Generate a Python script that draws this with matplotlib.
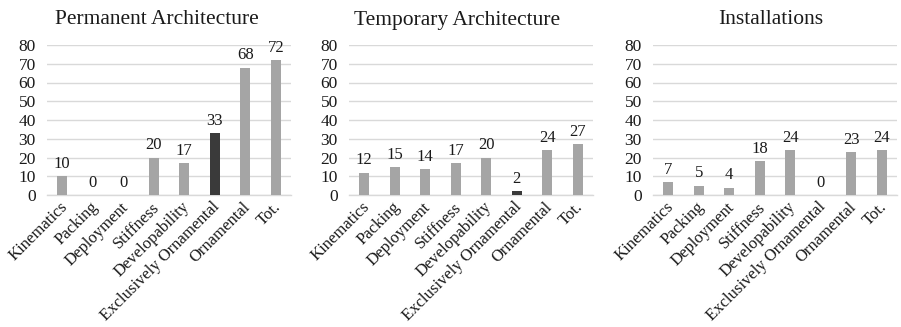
import matplotlib
matplotlib.use("Agg")
import matplotlib.pyplot as plt
from matplotlib.transforms import ScaledTranslation

plt.rcParams['font.family'] = ['Liberation Serif', 'DejaVu Serif']

categories = ["Kinematics", "Packing", "Deployment", "Stiffness",
              "Developability", "Exclusively Ornamental", "Ornamental", "Tot."]
titles = ["Permanent Architecture", "Temporary Architecture", "Installations"]
permanent = [10, 0, 0, 20, 17, 33, 68, 72]
temporary = [12, 15, 14, 17, 20, 2, 24, 27]
installations = [7, 5, 4, 18, 24, 0, 23, 24]
series = [permanent, temporary, installations]
highlight = "Exclusively Ornamental"
y_ticks = [0, 10, 20, 30, 40, 50, 60, 70, 80]

W, H = 901, 327
fig = plt.figure(figsize=(W / 100, H / 100), dpi=100)

lefts = [47, 349, 653]
title_centers = [157, 457, 771]
width_px = 244
bottom_px, top_px = 195, 45

text_col = "#1a1a1a"
bar_col = "#a5a5a5"
dark_col = "#3a3a3a"

for left, tc, title, vals in zip(lefts, title_centers, titles, series):
    ax = fig.add_axes([left / W, (H - bottom_px) / H, width_px / W,
                       (bottom_px - top_px) / H])
    x = list(range(len(categories)))
    colors = [dark_col if c == highlight else bar_col for c in categories]
    ax.bar(x, vals, width=0.33, color=colors, zorder=3)
    ax.set_xlim(-0.5, len(categories) - 0.5)
    ax.set_ylim(0, 80)
    ax.set_yticks(y_ticks)
    ax.set_yticklabels([str(t) for t in y_ticks], fontsize=12.5, color=text_col)
    ax.tick_params(axis='y', length=0, pad=8)
    ax.set_xticks(x)
    ax.set_xticklabels(categories, rotation=45, ha='right', va='center',
                       rotation_mode='anchor', fontsize=12, color=text_col)
    ax.tick_params(axis='x', length=0, pad=7)
    shift = ScaledTranslation(3 / 100, 0, fig.dpi_scale_trans)
    for lbl in ax.get_xticklabels():
        lbl.set_transform(lbl.get_transform() + shift)
    ax.grid(axis='y', color="#d9d9d9", linewidth=1, zorder=0)
    for s in ['top', 'right', 'left']:
        ax.spines[s].set_visible(False)
    ax.spines['bottom'].set_color("#d9d9d9")
    ax.spines['bottom'].set_linewidth(1)
    for xi, v in zip(x, vals):
        ax.annotate(str(v), (xi, v), xytext=(0, 3), textcoords='offset points',
                    ha='center', va='bottom', fontsize=12, color=text_col,
                    annotation_clip=False)
    fig.text(tc / W, 1 - 20 / H, title, ha='center',
             va='center', fontsize=15.5, color=text_col)

fig.savefig("out.png", dpi=100)
